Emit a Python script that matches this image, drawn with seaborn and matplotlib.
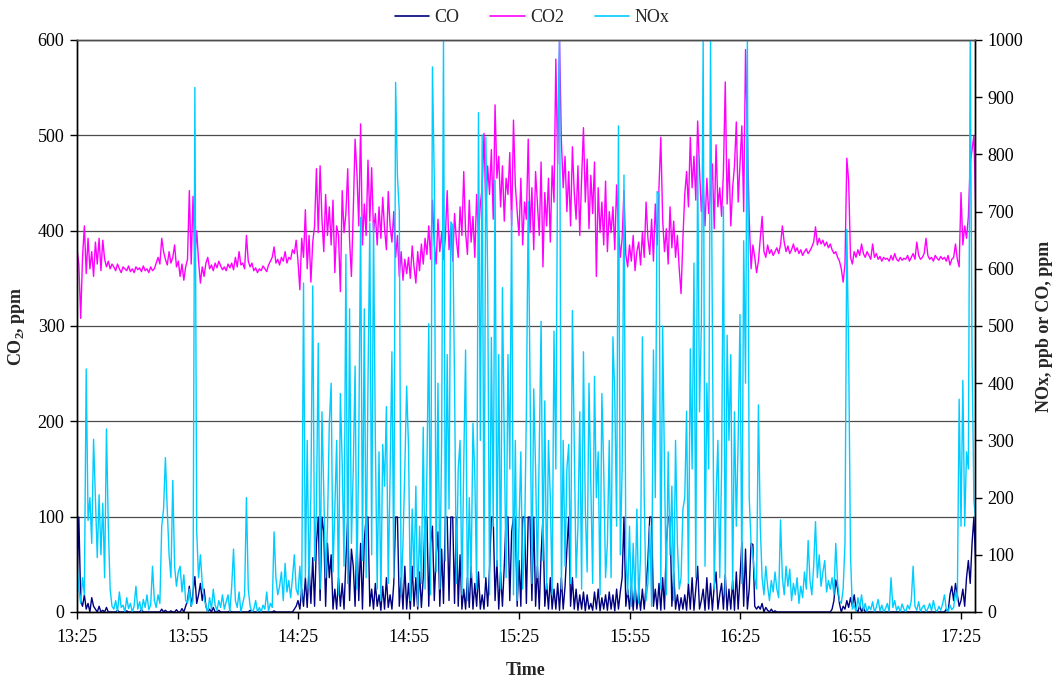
import numpy as np
import matplotlib
matplotlib.use("Agg")
import matplotlib.pyplot as plt
import seaborn as sns
from matplotlib.lines import Line2D

sns.set_style("white")
plt.rcParams["font.family"] = ["Liberation Serif", "DejaVu Serif"]
plt.rcParams["mathtext.fontset"] = "custom"
plt.rcParams["mathtext.rm"] = "Liberation Serif"
plt.rcParams["mathtext.bf"] = "Liberation Serif:bold"

# ---- data: values every 0.5 min since 13:25 (one line = 5 minutes) ----
step_min = 0.5
tick_minutes = [0, 30, 60, 90, 120, 150, 180, 210, 240]
tick_labels = ["13:25", "13:55", "14:25", "14:55", "15:25", "15:55", "16:25", "16:55", "17:25"]
series_names = ["CO", "CO2", "NOx"]

co2_ppm = [
    380, 365, 308, 372, 405, 355, 392, 360, 378, 352,   # 0
    388, 365, 392, 358, 390, 370, 362, 368, 360, 365,   # 5
    362, 358, 365, 360, 356, 362, 360, 358, 363, 357,   # 10
    360, 356, 362, 359, 361, 357, 363, 358, 360, 356,   # 15
    362, 358, 360, 366, 372, 365, 392, 378, 370, 364,   # 20
    378, 366, 372, 385, 362, 368, 352, 365, 348, 362,   # 25
    370, 442, 365, 436, 372, 400, 368, 345, 362, 352,   # 30
    366, 372, 360, 364, 358, 366, 361, 368, 363, 359,   # 35
    362, 358, 365, 361, 366, 359, 372, 362, 378, 364,   # 40
    366, 360, 395, 368, 362, 366, 358, 361, 356, 360,   # 45
    358, 363, 360, 357, 364, 368, 372, 383, 366, 370,   # 50
    364, 372, 368, 378, 366, 372, 370, 380, 376, 390,   # 55
    368, 338, 392, 372, 422, 360, 395, 346, 388, 405,   # 60
    465, 398, 468, 412, 378, 438, 395, 425, 385, 432,   # 65
    356, 405, 395, 336, 442, 398, 418, 465, 390, 352,   # 70
    420, 496, 460, 405, 512, 385, 428, 395, 474, 410,   # 75
    466, 398, 418, 385, 425, 392, 435, 402, 380, 441,   # 80
    405, 388, 420, 372, 395, 352, 378, 348, 370, 355,   # 85
    372, 350, 384, 362, 345, 378, 358, 386, 365, 392,   # 90
    375, 405, 370, 432, 385, 365, 412, 378, 398, 370,   # 95
    392, 442, 380, 405, 368, 418, 390, 372, 425, 395,   # 100
    462, 398, 375, 432, 388, 415, 372, 438, 395, 428,   # 105
    445, 502, 420, 468, 438, 485, 412, 532, 455, 478,   # 110
    425, 468, 410, 455, 438, 482, 405, 516, 448, 420,   # 115
    395, 455, 385, 430, 412, 496, 398, 445, 380, 462,   # 120
    428, 395, 472, 362, 440, 405, 455, 388, 468, 430,   # 125
    580, 470, 600, 495, 445, 478, 420, 462, 405, 488,   # 130
    440, 412, 468, 395, 455, 508, 430, 475, 402, 458,   # 135
    418, 472, 352, 445, 398, 430, 385, 452, 378, 420,   # 140
    398, 425, 380, 448, 402, 372, 392, 442, 375, 362,   # 145
    385, 368, 395, 358, 378, 388, 364, 398, 372, 430,   # 150
    392, 375, 412, 368, 428, 385, 445, 498, 412, 378,   # 155
    402, 365, 425, 382, 410, 372, 395, 360, 334, 392,   # 160
    438, 462, 425, 498, 445, 478, 432, 515, 465, 420,   # 165
    448, 405, 455, 418, 440, 470, 402, 490, 425, 445,   # 170
    415, 462, 556, 428, 475, 405, 445, 468, 514, 430,   # 175
    470, 510, 420, 590, 500, 412, 360, 385, 372, 356,   # 180
    368, 392, 415, 378, 372, 385, 376, 380, 374, 378,   # 185
    382, 376, 385, 405, 388, 378, 384, 376, 380, 386,   # 190
    378, 382, 376, 380, 374, 378, 381, 376, 379, 383,   # 195
    388, 404, 385, 392, 386, 390, 384, 388, 382, 386,   # 200
    380, 376, 378, 372, 368, 360, 346, 365, 476, 452,   # 205
    372, 365, 378, 372, 380, 374, 386, 376, 372, 378,   # 210
    374, 370, 386, 372, 376, 370, 373, 368, 372, 370,   # 215
    371, 368, 374, 369, 376, 370, 368, 372, 369, 371,   # 220
    370, 374, 368, 372, 376, 370, 388, 374, 370, 372,   # 225
    376, 392, 374, 370, 372, 368, 374, 371, 369, 373,   # 230
    370, 372, 368, 374, 364, 370, 372, 386, 370, 362,   # 235
    440, 385, 405, 392, 415, 470, 485, 500, 420, 405,   # 240
]

nox_ppb = [
    90, 40, 15, 60, 30, 425, 160, 200, 120, 302,        # 0
    200, 95, 205, 100, 190, 60, 320, 150, 40, 10,       # 5
    5, 20, 0, 35, 8, 12, 0, 25, 6, 15,                  # 10
    0, 10, 45, 5, 18, 0, 22, 8, 30, 4,                  # 15
    12, 80, 20, 8, 30, 15, 150, 180, 270, 180,          # 20
    100, 60, 230, 80, 45, 70, 80, 35, 65, 20,           # 25
    15, 40, 10, 20, 917, 140, 60, 100, 50, 25,          # 30
    10, 0, 25, 5, 40, 12, 3, 20, 8, 30,                 # 35
    5, 18, 30, 0, 45, 110, 20, 8, 35, 0,                # 40
    15, 30, 200, 40, 10, 0, 5, 20, 0, 8,                # 45
    0, 12, 5, 35, 2, 15, 8, 140, 60, 30,                # 50
    45, 70, 20, 85, 35, 55, 25, 60, 100, 40,            # 55
    30, 80, 20, 575, 60, 300, 40, 210, 570, 90,         # 60
    180, 470, 40, 350, 210, 60, 150, 330, 400, 70,      # 65
    180, 300, 30, 382, 260, 80, 625, 50, 530, 120,      # 70
    250, 430, 40, 300, 690, 90, 530, 60, 400, 680,      # 75
    100, 680, 300, 40, 280, 20, 293, 220, 359, 50,      # 80
    240, 455, 60, 926, 761, 700, 30, 120, 250, 395,     # 85
    290, 20, 180, 60, 220, 10, 150, 50, 323, 40,        # 90
    250, 504, 30, 953, 755, 70, 400, 40, 300, 1000,     # 95
    90, 450, 180, 682, 676, 400, 50, 250, 300, 30,      # 100
    260, 458, 20, 200, 60, 330, 240, 40, 873, 300,      # 105
    834, 60, 830, 580, 30, 480, 150, 755, 80, 450,      # 110
    40, 567, 300, 60, 450, 250, 702, 30, 300, 20,       # 115
    150, 280, 40, 120, 350, 718, 400, 50, 390, 250,     # 120
    60, 280, 508, 90, 369, 40, 300, 200, 30, 491,       # 125
    250, 817, 1000, 40, 300, 80, 250, 293, 50, 527,     # 130
    300, 60, 150, 350, 40, 455, 180, 70, 400, 220,      # 135
    50, 412, 200, 280, 30, 382, 250, 60, 120, 300,      # 140
    60, 481, 380, 150, 850, 100, 250, 764, 100, 30,     # 145
    150, 10, 120, 20, 180, 15, 100, 481, 200, 20,       # 150
    50, 150, 10, 458, 200, 735, 730, 40, 500, 250,      # 155
    30, 280, 100, 220, 20, 300, 120, 40, 60, 180,       # 160
    200, 351, 50, 460, 250, 610, 60, 800, 350, 500,     # 165
    1000, 80, 400, 250, 1000, 500, 40, 200, 300, 60,    # 170
    250, 709, 30, 484, 300, 450, 40, 350, 150, 300,     # 175
    520, 50, 649, 400, 1000, 200, 120, 100, 60, 40,     # 180
    362, 150, 60, 30, 80, 45, 20, 55, 35, 70,           # 185
    40, 25, 161, 60, 30, 80, 45, 75, 20, 50,            # 190
    30, 60, 15, 45, 25, 70, 40, 125, 55, 30,            # 195
    80, 158, 60, 100, 45, 70, 90, 35, 55, 40,           # 200
    60, 30, 120, 50, 20, 15, 40, 120, 669, 455,         # 205
    100, 5, 12, 0, 25, 8, 30, 3, 15, 0,                 # 210
    10, 4, 18, 0, 8, 22, 2, 12, 0, 6,                   # 215
    15, 0, 60, 8, 20, 3, 10, 0, 14, 5,                  # 220
    0, 12, 5, 20, 80, 10, 3, 18, 0, 8,                  # 225
    12, 0, 6, 15, 2, 20, 5, 0, 10, 3,                   # 230
    14, 30, 5, 0, 12, 4, 8, 35, 20, 372,                # 235
    150, 405, 150, 280, 250, 1000, 445, 194, 160, 120,  # 240
]

co_ppm = [
    40, 166, 20, 10, 30, 5, 15, 0, 25, 10,              # 0
    5, 0, 10, 0, 3, 0, 8, 0, 0, 0,                      # 5
    0, 0, 3, 0, 0, 0, 0, 2, 0, 0,                       # 10
    0, 0, 0, 0, 0, 4, 0, 0, 0, 0,                       # 15
    0, 0, 0, 0, 0, 0, 5, 0, 3, 0,                       # 20
    0, 2, 0, 0, 4, 0, 0, 6, 0, 10,                      # 25
    20, 45, 10, 35, 62, 15, 30, 50, 20, 40,             # 30
    10, 0, 5, 0, 8, 0, 0, 3, 0, 0,                      # 35
    0, 0, 0, 2, 0, 0, 0, 0, 0, 0,                       # 40
    0, 0, 0, 0, 3, 0, 0, 0, 0, 0,                       # 45
    0, 0, 0, 0, 0, 0, 0, 2, 0, 0,                       # 50
    0, 0, 0, 0, 0, 0, 0, 0, 5, 10,                      # 55
    20, 5, 40, 10, 60, 8, 80, 15, 95, 10,               # 60
    120, 166, 20, 166, 140, 10, 120, 60, 100, 5,        # 65
    40, 5, 60, 10, 50, 5, 90, 166, 20, 110,             # 70
    80, 10, 130, 20, 120, 5, 125, 166, 166, 10,         # 75
    40, 5, 50, 10, 30, 3, 45, 5, 60, 8,                 # 80
    30, 5, 50, 166, 166, 10, 60, 5, 80, 5,              # 85
    50, 5, 80, 10, 60, 5, 70, 8, 60, 166,               # 90
    166, 10, 120, 150, 20, 100, 140, 10, 110, 15,       # 95
    166, 166, 20, 166, 166, 15, 166, 10, 100, 5,        # 100
    40, 5, 60, 8, 80, 5, 50, 10, 70, 5,                 # 105
    30, 5, 60, 10, 75, 166, 166, 20, 90, 5,             # 110
    70, 10, 80, 166, 166, 20, 140, 166, 166, 10,        # 115
    90, 10, 166, 166, 15, 166, 166, 20, 166, 10,        # 120
    80, 5, 100, 166, 10, 50, 5, 60, 5, 40,              # 125
    5, 50, 3, 60, 5, 45, 110, 166, 10, 60,              # 130
    5, 40, 3, 30, 5, 35, 2, 30, 5, 15,                  # 135
    3, 35, 5, 40, 2, 25, 5, 30, 3, 35,                  # 140
    5, 30, 2, 40, 5, 35, 60, 166, 10, 40,               # 145
    5, 45, 3, 50, 5, 35, 3, 40, 5, 45,                  # 150
    90, 166, 166, 10, 40, 5, 50, 3, 60, 5,              # 155
    120, 166, 166, 10, 70, 5, 30, 3, 25, 5,             # 160
    30, 3, 50, 5, 60, 3, 40, 80, 5, 20,                 # 165
    40, 3, 60, 5, 50, 3, 45, 70, 5, 30,                 # 170
    50, 5, 65, 3, 40, 5, 55, 3, 70, 5,                  # 175
    60, 122, 10, 110, 5, 40, 120, 118, 10, 5,           # 180
    10, 5, 15, 0, 8, 3, 0, 5, 0, 2,                     # 185
    0, 0, 0, 0, 0, 0, 0, 0, 0, 0,                       # 190
    0, 0, 0, 0, 0, 0, 0, 0, 0, 0,                       # 195
    0, 0, 0, 0, 0, 0, 0, 0, 0, 0,                       # 200
    5, 20, 56, 40, 15, 0, 10, 5, 20, 8,                 # 205
    25, 10, 30, 5, 0, 12, 0, 8, 0, 0,                   # 210
    0, 0, 0, 0, 0, 0, 0, 0, 0, 0,                       # 215
    0, 0, 0, 0, 0, 0, 0, 0, 0, 0,                       # 220
    0, 0, 0, 0, 0, 0, 0, 0, 0, 0,                       # 225
    0, 0, 0, 0, 0, 0, 0, 0, 0, 0,                       # 230
    0, 0, 5, 0, 30, 45, 20, 50, 30, 10,                 # 235
    20, 40, 10, 60, 90, 50, 120, 166, 80, 60,           # 240
]

colors = {"CO": "#000080", "CO2": "#FF00FF", "NOx": "#00CCFF"}

t_co2 = np.arange(len(co2_ppm)) * step_min
t_nox = np.arange(len(nox_ppb)) * step_min
t_co = np.arange(len(co_ppm)) * step_min

fig = plt.figure(figsize=(10.58, 6.83), dpi=100)
ax = fig.add_axes([77 / 1058, 1 - 612 / 683, 898 / 1058, 572 / 683])
ax2 = ax.twinx()

lw = 1.0
sns.lineplot(x=t_co2, y=co2_ppm, ax=ax, color=colors["CO2"], linewidth=lw)
sns.lineplot(x=t_co, y=co_ppm, ax=ax2, color=colors["CO"], linewidth=lw)
sns.lineplot(x=t_nox, y=nox_ppb, ax=ax2, color=colors["NOx"], linewidth=lw)

ax.set_xlim(0, 243.8)
ax.set_ylim(0, 600)
ax2.set_ylim(0, 1000)
ax.set_yticks(range(0, 601, 100))
ax2.set_yticks(range(0, 1001, 100))
ax.set_xticks(tick_minutes)
ax.set_xticklabels(tick_labels)

ax.set_axisbelow(True)
ax.yaxis.grid(True, color="#4d4d4d", linewidth=0.9)
ax.xaxis.grid(False)
ax2.grid(False)

for a in (ax, ax2):
    for s in a.spines.values():
        s.set_color("black")
        s.set_linewidth(1.0)
    a.spines["top"].set_color("#4d4d4d")
ax.tick_params(axis="both", direction="out", length=5, width=1, labelsize=13,
               colors="black", pad=4)
ax.tick_params(axis="x", pad=7)
ax.tick_params(left=True, bottom=True)
ax2.tick_params(axis="y", direction="out", length=5, width=1, labelsize=13,
                colors="black", pad=4, right=True)

ax.set_xlabel("Time", fontsize=13, fontweight="bold")
ax.set_ylabel(r"CO$_\mathbf{2}$, ppm", fontsize=13, fontweight="bold")
ax2.set_ylabel("NOx, ppb or CO, ppm", fontsize=13, fontweight="bold")
ax.xaxis.set_label_coords(0.5, -0.088)
ax.yaxis.set_label_coords(-0.056, 0.5)
ax2.yaxis.set_label_coords(1.068, 0.5)

handles = [Line2D([0], [0], color=colors[n], linewidth=1.2) for n in series_names]
fig.legend(handles, series_names, loc="center", bbox_to_anchor=(0.503, 0.974),
           ncol=3, frameon=False, fontsize=13, handlelength=1.9,
           handletextpad=0.3, columnspacing=1.7)

fig.savefig("out.png", dpi=100)
